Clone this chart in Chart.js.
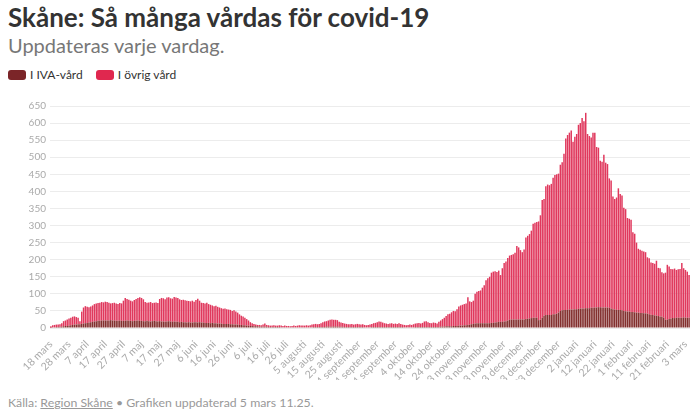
<!DOCTYPE html>
<html lang="sv">
<head>
    <meta charset="UTF-8">
    <title>Skåne: Så många vårdas för covid-19</title>
    <script src="https://cdn.jsdelivr.net/npm/chart.js"></script>
    <style>
        body {
            margin: 0;
            width: 700px;
            height: 413px;
            background: #fff;
            font-family: Lato, "Open Sans", sans-serif;
            position: relative;
            overflow: hidden;
        }
        h1 {
            position: absolute;
            left: 8px;
            top: 1px;
            margin: 0;
            font-size: 26px;
            font-weight: 700;
            color: #333;
        }
        .sub {
            position: absolute;
            left: 8px;
            top: 33px;
            font-size: 20px;
            color: #777;
        }
        .legend {
            position: absolute;
            left: 8px;
            top: 67px;
            font-size: 12px;
            color: #333;
        }
        .legend .item { margin-right: 10px; }
        .legend .sw {
            display: inline-block;
            width: 18px;
            height: 10px;
            border-radius: 3px;
            margin-right: 4px;
            vertical-align: -1px;
        }
        #chartBox {
            position: absolute;
            left: 0;
            top: 90px;
            width: 700px;
            height: 290px;
        }
        .foot {
            position: absolute;
            left: 8px;
            top: 395px;
            font-size: 12.3px;
            color: #999;
        }
    </style>
</head>
<body>
    <h1>Skåne: Så många vårdas för covid-19</h1>
    <div class="sub">Uppdateras varje vardag.</div>
    <div class="legend">
        <span class="item"><span class="sw" style="background:#7b2528"></span>I IVA-vård</span>
        <span class="item"><span class="sw" style="background:#e0284f"></span>I övrig vård</span>
    </div>
    <div id="chartBox"><canvas id="vardChart"></canvas></div>
    <div class="foot">Källa: <u>Region Skåne</u> • Grafiken uppdaterad 5 mars 11.25.</div>

    <script>
        // one value per day, 18 mars 2020 - 5 mars 2021 (10 days per row)
        const monthNames = ['januari', 'februari', 'mars', 'april', 'maj', 'juni', 'juli',
            'augusti', 'september', 'oktober', 'november', 'december'];

        const ivaVard = [
            1,2,2,3,3,4,4,5,6,6,
            7,8,9,10,10,11,11,12,13,14,
            15,16,17,18,19,20,21,21,22,22,
            22,22,22,23,22,22,21,21,22,21,
            21,21,22,21,21,20,21,21,22,21,
            21,20,20,21,20,19,20,21,20,19,
            20,19,19,18,19,20,19,18,19,18,
            18,17,18,17,17,16,17,16,16,17,
            17,16,17,16,16,15,15,15,14,15,
            14,14,13,13,13,12,12,12,12,11,
            11,10,10,10,9,9,8,8,7,7,
            6,6,5,5,5,4,4,4,4,4,
            3,3,3,3,3,3,3,2,2,2,
            2,2,2,2,2,2,2,2,2,2,
            2,2,2,2,2,3,3,3,3,3,
            3,3,4,4,4,4,4,4,4,4,
            4,4,3,3,3,3,3,3,3,3,
            3,3,3,2,2,2,2,3,3,3,
            3,3,3,3,3,3,3,3,3,3,
            3,3,3,3,3,2,2,2,2,2,
            2,3,3,3,3,3,3,3,3,3,
            3,3,3,3,3,4,4,4,5,5,
            5,5,6,6,6,7,7,7,8,8,
            9,10,11,12,13,14,14,14,14,14,
            14,14,14,15,15,16,17,18,18,18,
            19,20,22,24,25,25,25,25,25,25,
            25,25,26,27,28,29,30,30,30,23,
            24,30,36,38,38,38,38,40,40,42,
            45,50,52,53,53,53,54,54,54,55,
            55,56,57,57,57,58,58,58,59,59,
            60,60,61,61,60,60,60,60,59,57,
            55,54,53,53,53,52,50,49,48,48,
            47,47,46,45,45,44,44,43,43,42,
            40,39,38,37,36,35,34,33,30,24,
            24,26,28,29,29,30,30,30,30,31,
            30,30,30
        ];

        const ovrigVard = [
            4,6,7,7,7,7,10,15,16,19,
            21,22,24,24,22,19,9,36,47,50,
            47,45,46,48,51,52,52,53,54,53,
            55,54,52,49,51,52,51,49,51,51,
            59,67,63,62,59,58,61,64,66,69,
            67,64,56,53,55,57,53,53,55,54,
            65,69,68,66,70,70,68,68,72,71,
            70,67,64,66,64,64,62,62,64,60,
            65,70,63,58,57,57,59,55,54,51,
            50,51,49,47,45,44,45,43,42,42,
            39,42,38,35,31,27,26,22,19,15,
            11,8,7,5,4,5,4,6,9,5,
            5,4,4,5,4,4,5,5,4,5,
            4,4,3,4,5,4,5,6,5,5,
            5,6,5,6,8,8,9,8,9,11,
            14,16,16,18,20,21,20,20,19,14,
            12,11,10,9,8,8,9,7,8,9,
            8,7,8,7,6,7,8,9,11,12,
            14,16,15,13,11,10,9,10,11,9,
            10,9,11,9,7,7,6,7,8,7,
            9,10,11,12,10,12,16,17,14,12,
            11,13,12,10,15,18,22,26,30,35,
            37,41,44,43,49,56,59,61,62,64,
            81,68,65,68,87,92,94,96,104,111,
            126,132,136,147,150,150,147,150,137,157,
            171,175,183,188,189,191,195,215,211,203,
            197,205,239,243,247,256,275,278,280,289,
            306,345,342,377,382,380,384,400,408,408,
            407,428,433,457,502,512,518,524,491,505,
            513,539,543,558,548,572,510,504,499,513,
            512,470,467,429,427,447,424,420,379,375,
            330,324,329,356,339,336,302,299,274,272,
            270,233,230,205,187,185,182,181,179,165,
            164,153,152,151,161,141,141,130,130,138,
            161,154,145,143,145,140,142,143,160,144,
            140,135,125
        ];

        // a labelled tick every 10th day
        const tickEvery = 10;

        const days = ivaVard.map((_, i) => {
            const d = new Date(Date.UTC(2020, 2, 18 + i));
            return d.getUTCDate() + ' ' + monthNames[d.getUTCMonth()];
        });

        const ctx = document.getElementById('vardChart').getContext('2d');
        new Chart(ctx, {
            type: 'bar',
            data: {
                labels: days,
                datasets: [
                    {
                        label: 'I IVA-vård',
                        data: ivaVard,
                        backgroundColor: '#83302f',
                        barPercentage: 0.82,
                        categoryPercentage: 1
                    },
                    {
                        label: 'I övrig vård',
                        data: ovrigVard,
                        backgroundColor: '#e0385d',
                        barPercentage: 0.82,
                        categoryPercentage: 1
                    }
                ]
            },
            options: {
                responsive: true,
                maintainAspectRatio: false,
                animation: false,
                layout: { padding: { top: 16, right: 8, left: 0, bottom: 0 } },
                plugins: {
                    legend: { display: false },
                    tooltip: { enabled: false }
                },
                scales: {
                    x: {
                        stacked: true,
                        grid: { display: false },
                        border: { display: false },
                        ticks: {
                            autoSkip: false,
                            maxRotation: 45,
                            minRotation: 45,
                            padding: 2,
                            color: '#aaa',
                            font: { family: 'Lato', size: 10.5 },
                            callback: function (val, i) {
                                return i % tickEvery === 0 ? days[i] : '';
                            }
                        },
                        afterFit: function (scale) { scale.height = 52; }
                    },
                    y: {
                        stacked: true,
                        min: 0,
                        max: 650,
                        grid: { color: '#ececec', drawTicks: false },
                        border: { display: false },
                        ticks: {
                            stepSize: 50,
                            padding: 4,
                            color: '#aaa',
                            font: { family: 'Lato', size: 10 }
                        },
                        afterFit: function (scale) { scale.width = 50; }
                    }
                }
            }
        });
    </script>
</body>
</html>
